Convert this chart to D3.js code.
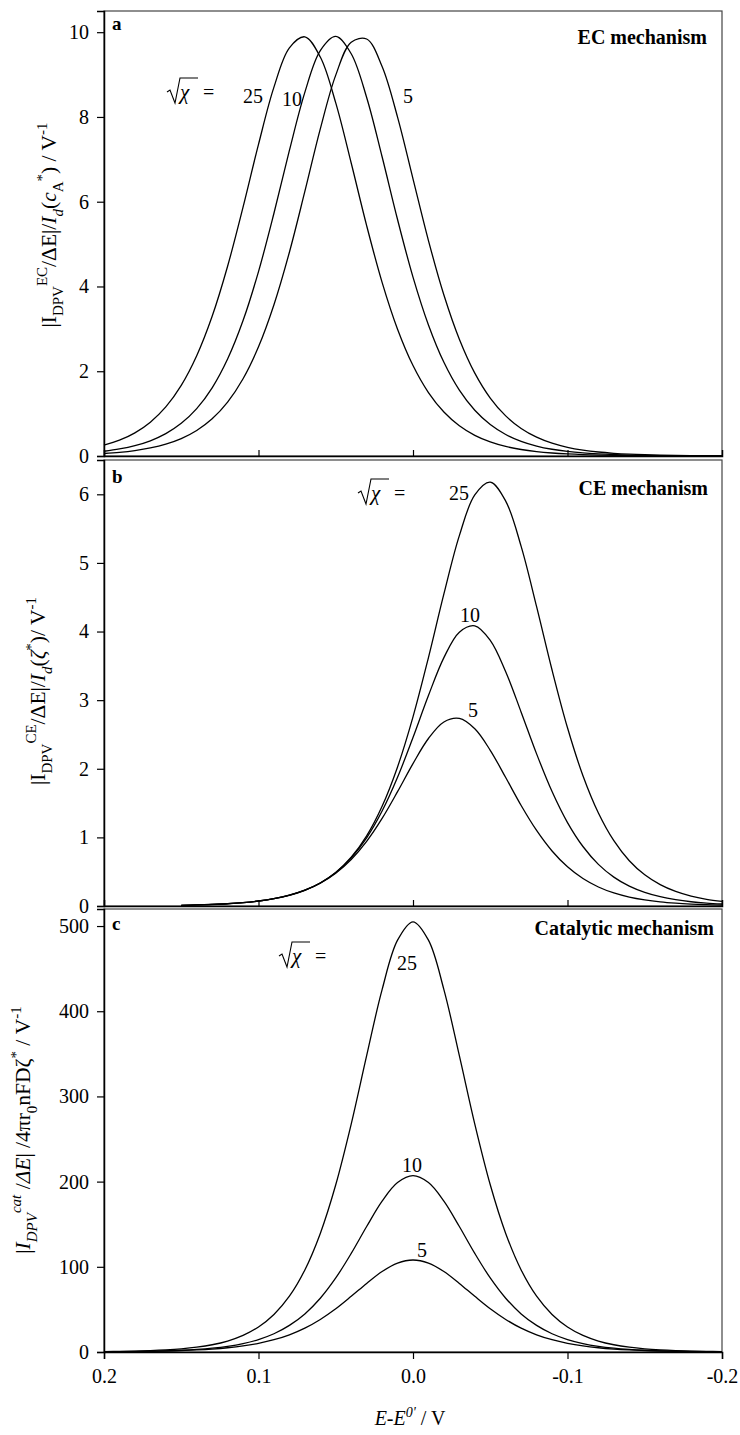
<!DOCTYPE html>
<html><head><meta charset="utf-8">
<script src="https://cdn.jsdelivr.net/npm/d3@7"></script>
<style>body{margin:0;background:#fff}svg{display:block}</style>
</head><body>
<script>
// ---------- data ----------
const potential = [0.20,0.19,0.18,0.17,0.16,0.15,0.14,0.13,0.12,0.11,0.10,0.09,0.08,0.07,0.06,0.05,0.04,0.03,0.02,0.01,0.00,
  -0.01,-0.02,-0.03,-0.04,-0.05,-0.06,-0.07,-0.08,-0.09,-0.10,-0.11,-0.12,-0.13,-0.14,-0.15,-0.16,-0.17,-0.18,-0.19,-0.20];
const chiLabels = ["25","10","5"];

// panel a : EC mechanism
const ecChi25 = [0.254,0.373,0.547,0.799,1.159,1.667,2.366,3.296,4.478,5.871,7.353,8.703,9.631,9.891,9.413,8.331,6.913,5.436,4.098,2.993,2.135,
  1.498,1.038,0.714,0.488,0.333,0.226,0.153,0.104,0.071,0.048,0.032,0.022,0.015,0.010,0.007,0.005,0.003,0.002,0.001,0.001];
const ecChi10 = [0.112,0.166,0.244,0.359,0.527,0.770,1.118,1.609,2.288,3.195,4.351,5.728,7.210,8.581,9.565,9.900,9.492,8.459,7.061,5.580,4.222,
  3.092,2.210,1.553,1.078,0.741,0.507,0.346,0.235,0.159,0.108,0.073,0.050,0.034,0.023,0.015,0.010,0.007,0.005,0.003,0.002];
const ecChi5 = [0.059,0.087,0.129,0.190,0.280,0.411,0.602,0.878,1.272,1.823,2.577,3.570,4.808,6.242,7.717,8.987,9.764,9.839,9.191,7.996,6.539,
  5.083,3.798,2.756,1.956,1.368,0.946,0.650,0.444,0.302,0.205,0.139,0.094,0.064,0.043,0.029,0.020,0.013,0.009,0.006,0.004];

// panel b : CE mechanism (no data above 0.15 V)
const ceChi25 = [null,null,null,null,null,0.010,0.015,0.022,0.033,0.048,0.072,0.106,0.156,0.229,0.336,0.490,0.711,1.023,1.454,2.027,2.757,
  3.621,4.548,5.398,5.992,6.178,5.901,5.241,4.362,3.439,2.597,1.899,1.356,0.952,0.660,0.454,0.311,0.212,0.144,0.098,0.066];
const ceChi10 = [null,null,null,null,null,0.010,0.015,0.023,0.033,0.049,0.073,0.107,0.157,0.230,0.336,0.488,0.701,0.994,1.384,1.876,2.456,
  3.068,3.620,3.991,4.084,3.872,3.415,2.825,2.217,1.668,1.216,0.867,0.607,0.421,0.289,0.198,0.135,0.092,0.062,0.042,0.029];
const ceChi5 = [null,null,null,null,null,0.010,0.015,0.023,0.034,0.050,0.073,0.107,0.157,0.230,0.333,0.478,0.678,0.942,1.276,1.666,2.076,
  2.441,2.682,2.733,2.582,2.269,1.872,1.465,1.101,0.802,0.571,0.400,0.277,0.190,0.130,0.089,0.060,0.041,0.028,0.019,0.013];

// panel c : catalytic mechanism
const catChi25 = [0.45,0.69,1.05,1.60,2.44,3.70,5.61,8.52,12.9,19.5,29.4,44.1,65.5,96.3,139.2,196.3,267.5,347.8,425.4,483.4,505,
  483.4,425.4,347.8,267.5,196.3,139.2,96.3,65.5,44.1,29.4,19.5,12.9,8.52,5.61,3.70,2.44,1.60,1.05,0.69,0.45];
const catChi10 = [0.28,0.41,0.62,0.92,1.37,2.04,3.04,4.52,6.70,9.92,14.6,21.4,31.2,44.7,63.1,86.9,115.7,147.3,177.1,198.9,207,
  198.9,177.1,147.3,115.7,86.9,63.1,44.7,31.2,21.4,14.6,9.92,6.70,4.52,3.04,2.04,1.37,0.92,0.62,0.41,0.28];
const catChi5 = [0.26,0.38,0.55,0.80,1.16,1.67,2.40,3.46,4.98,7.13,10.2,14.4,20.2,28.0,38.2,50.7,65.3,80.5,94.5,104.4,108,
  104.4,94.5,80.5,65.3,50.7,38.2,28.0,20.2,14.4,10.2,7.13,4.98,3.46,2.40,1.67,1.16,0.80,0.55,0.38,0.26];

// ticks
const xTicks = [0.2,0.1,0.0,-0.1,-0.2];
const xTickLabels = ["0.2","0.1","0.0","-0.1","-0.2"];
const yTicksA = [0,2,4,6,8,10];
const yTicksB = [0,1,2,3,4,5,6];
const yTicksC = [0,100,200,300,400,500];
const panelTitles = ["EC mechanism","CE mechanism","Catalytic mechanism"];
const panelLetters = ["a","b","c"];

// ---------- drawing ----------
const W = 740, H = 1435;
const FONT = "'Liberation Serif','Times New Roman',Times,serif";
const svg = d3.select("body").append("svg").attr("width", W).attr("height", H)
  .attr("font-family", FONT);
svg.append("rect").attr("width", W).attr("height", H).attr("fill", "#fff");

const x = d3.scaleLinear().domain([0.2, -0.2]).range([104, 722]);

function rich(sel, parts, fs) {
  const t = sel.append("text").attr("font-size", fs).attr("fill", "#000");
  let cur = 0;
  parts.forEach(p => {
    const target = p.pos === "sub" ? 0.32 * fs : p.pos === "sup" ? -0.42 * fs : 0;
    t.append("tspan")
      .attr("dy", target - cur)
      .attr("font-size", p.pos ? Math.round(0.68 * fs) : fs)
      .attr("font-style", p.i ? "italic" : "normal")
      .text(p.t);
    cur = target;
  });
  return t;
}

function sqrtChi(g, x0, base) {
  g.append("path")
    .attr("d", `M${x0},${base-7} L${x0+3},${base-9} L${x0+8},${base+4} L${x0+13},${base-21} L${x0+31},${base-21}`)
    .attr("fill", "none").attr("stroke", "#000").attr("stroke-width", 1.1);
  g.append("text").attr("x", x0 + 13).attr("y", base).attr("font-size", 21)
    .attr("font-style", "italic").text("χ");
  g.append("text").attr("x", x0 + 36).attr("y", base).attr("font-size", 20).text("=");
}

const panels = [
  { top: 11, bottom: 456, ymax: 10.5, yTicks: yTicksA, series: [ecChi25, ecChi10, ecChi5],
    letterY: 30, titleX: 707, titleY: 44, chiX: 167, chiY: 99,
    labels: [[243,103],[282,106],[403,103]],
    ylab: { x: 56, y: 225, parts: [
      {t:"|I"},{t:"DPV",pos:"sub"},{t:"EC",pos:"sup"},{t:"/ΔE|/"},{t:"I",i:1},{t:"d",i:1,pos:"sub"},
      {t:"("},{t:"c",i:1},{t:"A",pos:"sub"},{t:"*",pos:"sup"},{t:")"},{t:" / V"},{t:"-1",pos:"sup"}]} },
  { top: 460, bottom: 906, ymax: 6.5, yTicks: yTicksB, series: [ceChi25, ceChi10, ceChi5],
    letterY: 483, titleX: 708, titleY: 495, chiX: 358, chiY: 500,
    labels: [[449,500],[460,622],[468,717]],
    ylab: { x: 45, y: 691, parts: [
      {t:"|I"},{t:"DPV",pos:"sub"},{t:"CE",pos:"sup"},{t:"/ΔE|/"},{t:"I",i:1},{t:"d",i:1,pos:"sub"},
      {t:"("},{t:"ζ",i:1},{t:"*",pos:"sup"},{t:")/ V"},{t:"-1",pos:"sup"}]} },
  { top: 909, bottom: 1352, ymax: 520, yTicks: yTicksC, series: [catChi25, catChi10, catChi5],
    letterY: 930, titleX: 714, titleY: 935, chiX: 279, chiY: 963,
    labels: [[397,970],[402,1172],[417,1257]],
    ylab: { x: 30, y: 1130, parts: [
      {t:"|"},{t:"I",i:1},{t:"DPV",i:1,pos:"sub"},{t:"cat",i:1,pos:"sup"},{t:" /"},{t:"ΔE",i:1},{t:"| /4πr"},
      {t:"0",pos:"sub"},{t:"nFDζ"},{t:"*",pos:"sup"},{t:" / V"},{t:"-1",pos:"sup"}]} }
];

panels.forEach((p, pi) => {
  const g = svg.append("g");
  const y = d3.scaleLinear().domain([0, p.ymax]).range([p.bottom, p.top]);

  // frame (top / right)
  g.append("rect").attr("x", x.range()[0]).attr("y", p.top)
    .attr("width", x.range()[1] - x.range()[0]).attr("height", p.bottom - p.top)
    .attr("fill", "none").attr("stroke", "#444").attr("stroke-width", 1.2);

  // curves
  const line = d3.line()
    .defined(d => d[1] !== null)
    .x(d => x(d[0])).y(d => y(d[1]))
    .curve(d3.curveCatmullRom.alpha(0.5));
  p.series.forEach(s => {
    g.append("path").datum(potential.map((e, i) => [e, s[i]]))
      .attr("d", line).attr("fill", "none").attr("stroke", "#000").attr("stroke-width", 1.3);
  });

  // y axis
  const ya = g.append("g").attr("transform", `translate(${x.range()[0]},0)`)
    .call(d3.axisLeft(y).tickValues(p.yTicks).tickSize(7).tickPadding(8).tickFormat(d => String(d)));
  ya.select(".domain").attr("stroke", "#000").attr("stroke-width", 1.5);
  ya.selectAll(".tick line").attr("stroke", "#000").attr("stroke-width", 1.2);
  ya.selectAll(".tick text").attr("font-size", 20).attr("font-family", FONT).attr("fill", "#000");

  // x axis
  if (pi < 2) {
    const xa = g.append("g").attr("transform", `translate(0,${p.bottom})`)
      .call(d3.axisBottom(x).tickValues([0.1, 0.0, -0.1]).tickSize(-6).tickFormat(""));
    xa.select(".domain").attr("stroke", "#000").attr("stroke-width", 1.5);
    xa.selectAll(".tick line").attr("stroke", "#000").attr("stroke-width", 1.2);
  } else {
    const xa = g.append("g").attr("transform", `translate(0,${p.bottom})`)
      .call(d3.axisBottom(x).tickValues(xTicks).tickSize(7).tickPadding(10)
        .tickFormat((d, i) => xTickLabels[i]));
    xa.select(".domain").attr("stroke", "#000").attr("stroke-width", 1.5);
    xa.selectAll(".tick line").attr("stroke", "#000").attr("stroke-width", 1.2);
    xa.selectAll(".tick text").attr("font-size", 20).attr("font-family", FONT).attr("fill", "#000");
  }

  // panel letter and title
  g.append("text").attr("x", 112).attr("y", p.letterY).attr("font-size", 19)
    .attr("font-weight", "bold").text(panelLetters[pi]);
  g.append("text").attr("x", p.titleX).attr("y", p.titleY).attr("font-size", 20)
    .attr("font-weight", "bold").attr("text-anchor", "end").text(panelTitles[pi]);

  // sqrt(chi) =
  sqrtChi(g, p.chiX, p.chiY);
  p.labels.forEach((l, i) => {
    g.append("text").attr("x", l[0]).attr("y", l[1]).attr("font-size", 20).text(chiLabels[i]);
  });

  // y label
  const yl = g.append("g").attr("transform", `translate(${p.ylab.x},${p.ylab.y}) rotate(-90)`);
  rich(yl, p.ylab.parts, 21.5).attr("text-anchor", "middle");
});

// x title
rich(svg.append("g").attr("transform", "translate(410,1425)"),
  [{t:"E",i:1},{t:"-"},{t:"E",i:1},{t:"0'",i:1,pos:"sup"},{t:" / V"}], 20).attr("text-anchor", "middle");
</script>
</body></html>
